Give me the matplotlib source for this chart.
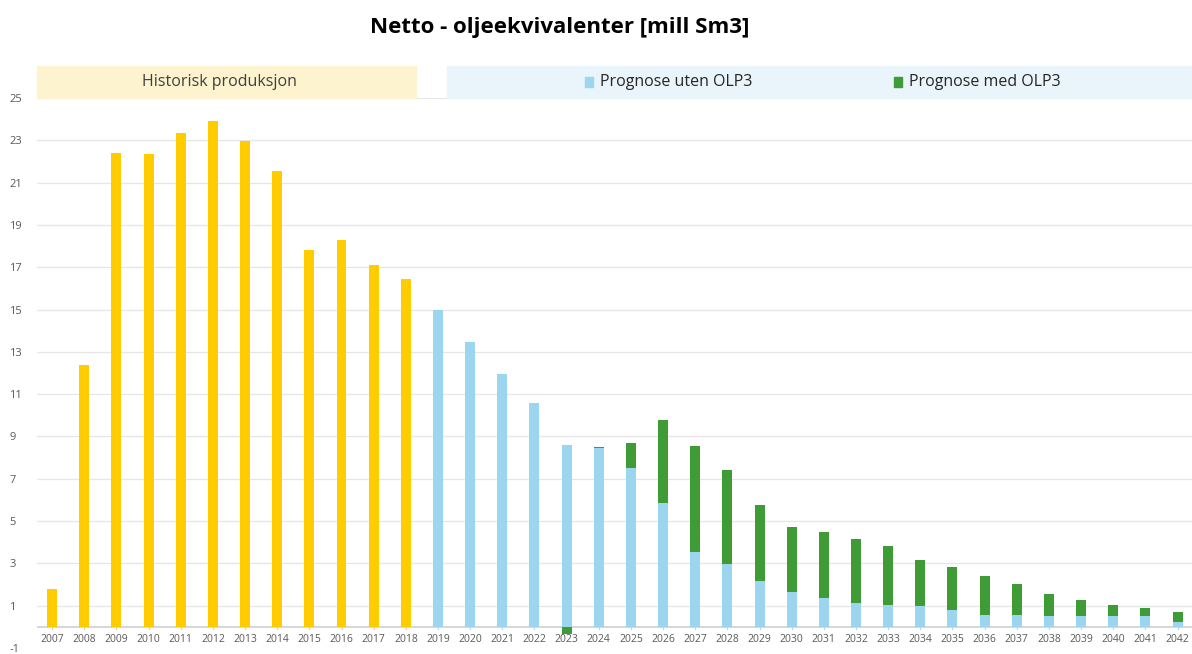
import numpy as np
import matplotlib
matplotlib.use("Agg")
import matplotlib.pyplot as plt
from matplotlib.patches import Rectangle

plt.rcParams['font.family'] = ['Open Sans', 'DejaVu Sans']
plt.rcParams['axes.unicode_minus'] = False

# data
hist_years = list(range(2007, 2019))
hist_vals = [1.78, 12.38, 22.42, 22.37, 23.36, 23.92, 22.98, 21.53, 17.82, 18.29, 17.12, 16.46]

prog_years = list(range(2019, 2043))
uten_olp3 = [14.96, 13.46, 11.96, 10.60, 8.58, 8.44, 7.50, 5.86, 3.56, 2.95, 2.16, 1.64,
             1.36, 1.13, 1.03, 0.98, 0.80, 0.56, 0.56, 0.53, 0.53, 0.53, 0.50, 0.24]
med_olp3 = [0, 0, 0, 0, -0.33, 0.06, 1.18, 3.90, 4.98, 4.46, 3.61, 3.10,
            3.14, 3.00, 2.77, 2.16, 2.01, 1.86, 1.46, 1.02, 0.74, 0.50, 0.39, 0.45]

yellow = '#FFCC00'
blue = '#9BD5EF'
green = '#3F9B35'

fig = plt.figure(figsize=(11.92, 6.54), dpi=100)
ax = fig.add_axes([37/1192, 6/654, 1 - 37/1192, 550/654])

all_years = hist_years + prog_years
xpos = {y: i for i, y in enumerate(all_years)}
w = 0.31

hx = [xpos[y] for y in hist_years]
px = [xpos[y] for y in prog_years]
ax.bar(hx, hist_vals, width=w, color=yellow, zorder=3)
ax.bar(px, uten_olp3, width=w, color=blue, zorder=3)
bottoms = [b if g >= 0 else 0 for b, g in zip(uten_olp3, med_olp3)]
ax.bar(px, med_olp3, width=w, bottom=bottoms, color=green, zorder=3)

ax.set_xlim(-0.47, len(all_years) - 0.55)
ax.set_ylim(-1, 25)
ax.set_yticks(np.arange(-1, 26, 2))
ax.tick_params(axis='y', length=0, labelsize=8, labelcolor='#595959', pad=20)
for t in ax.get_yticklabels():
    t.set_horizontalalignment('left')
for v in range(1, 26, 2):
    ax.axhline(v, color='#E6E6E6', lw=0.9, zorder=1)
ax.axhline(0, color='#D0D0D0', lw=1.2, zorder=2)
ax.set_xticks([])
for sp in ax.spines.values():
    sp.set_visible(False)

# year labels just below zero line
for y in all_years:
    ax.text(xpos[y], -0.35, str(y), ha='center', va='top', fontsize=7.5, color='#595959')
    ax.plot([xpos[y], xpos[y]], [0, -0.12], color='#D0D0D0', lw=0.8, zorder=2)

# header boxes
fig.patches.append(Rectangle((37/1192, 556/654), (416-37)/1192, 32/654,
                             transform=fig.transFigure, color='#FDF3CE', zorder=0))
fig.patches.append(Rectangle((447/1192, 556/654), (1192-447)/1192, 32/654,
                             transform=fig.transFigure, color='#EAF4FB', zorder=0))
fig.text(219/1192, 572/654, 'Historisk produksjon', ha='center', va='center',
         fontsize=11.5, color='#404040')
fig.patches.append(Rectangle((585/1192, 567/654), 8/1192, 10/654,
                             transform=fig.transFigure, color=blue))
fig.text(600/1192, 572/654, 'Prognose uten OLP3', ha='left', va='center',
         fontsize=11.5, color='#262626')
fig.patches.append(Rectangle((894/1192, 567/654), 8/1192, 10/654,
                             transform=fig.transFigure, color=green))
fig.text(909/1192, 572/654, 'Prognose med OLP3', ha='left', va='center',
         fontsize=11.5, color='#262626')

fig.text(560/1192, 626/654, 'Netto - oljeekvivalenter [mill Sm3]', ha='center', va='center',
         fontsize=16, fontweight='bold', color='black')

fig.savefig('out.png', dpi=100)
